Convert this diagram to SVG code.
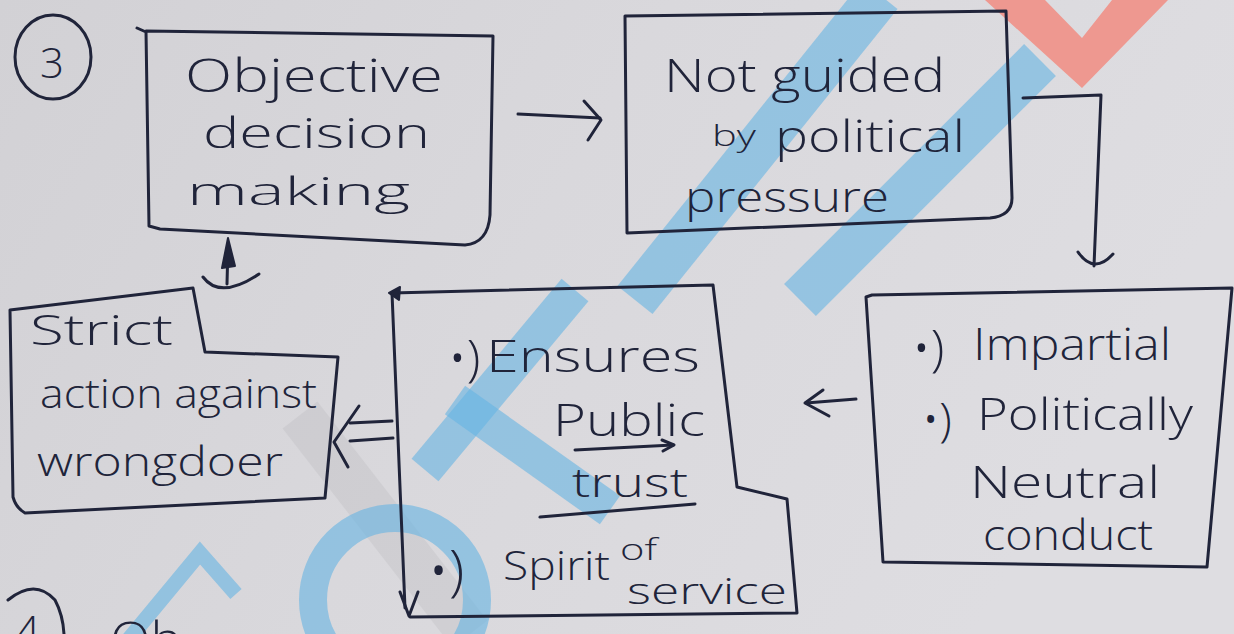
<svg xmlns="http://www.w3.org/2000/svg" width="1234" height="634" viewBox="0 0 1234 634">
  <defs>
    <linearGradient id="paper" x1="0" y1="0" x2="1" y2="0.3">
      <stop offset="0" stop-color="#d2d1d5"/>
      <stop offset="0.5" stop-color="#d9d8dc"/>
      <stop offset="1" stop-color="#dedde1"/>
    </linearGradient>
    <style>
      .ink { fill: none; stroke: #20243a; stroke-width: 3; stroke-linecap: round; stroke-linejoin: round; }
      .head { fill: #20243a; stroke: #20243a; stroke-width: 2; stroke-linejoin: round; }
      .hand { font-family: "Open Sans", "DejaVu Sans", sans-serif; font-weight: 300; fill: #20243a; }
      .wm { fill: none; stroke: #66b4e3; stroke-linecap: butt; opacity: 0.6; }
    </style>
  </defs>

  <!-- paper -->
  <rect x="0" y="0" width="1234" height="634" fill="url(#paper)"/>

  <!-- faint pen shadow -->
  <line x1="300" y1="415" x2="470" y2="634" stroke="#a9a9ae" stroke-width="44" opacity="0.2"/>

  <!-- watermark -->
  <g id="watermark">
    <polygon points="985,0 1045,0 1082,38 1112,0 1168,0 1082,88" fill="#f2877c" opacity="0.8"/>
    <circle class="wm" cx="395" cy="600" r="82" stroke-width="28"/>
    <polyline class="wm" points="128,640 200,553 236,594" stroke-width="15"/>
    <line class="wm" x1="635" y1="300" x2="880" y2="-5" stroke-width="45"/>
    <line class="wm" x1="800" y1="300" x2="1040" y2="60" stroke-width="45"/>
    <line class="wm" x1="425" y1="470" x2="575" y2="290" stroke-width="35"/>
    <line class="wm" x1="455" y1="400" x2="610" y2="510" stroke-width="35"/>
  </g>

  <!-- item number -->
  <g id="num3">
    <ellipse class="ink" cx="53" cy="57" rx="38" ry="42"/>
    <text class="hand" x="40" y="78" font-size="42">3</text>
  </g>

  <g id="objective">
    <path class="ink" d="M137,28 L146,32 M146,31 L493,36 L490,215 Q488,243 465,245 L160,229 L149,226 Z"/>
    <text class="hand" x="185" y="92" font-size="46" textLength="258" lengthAdjust="spacingAndGlyphs">Objective</text>
    <text class="hand" x="203" y="148" font-size="42" textLength="227" lengthAdjust="spacingAndGlyphs">decision</text>
    <text class="hand" x="187" y="205" font-size="38" textLength="223" lengthAdjust="spacingAndGlyphs">making</text>
  </g>

  <g id="not-guided">
    <path class="ink" d="M625,16 L1006,11 L1012,198 Q1012,216 990,218 L627,233 Z"/>
    <text class="hand" x="664" y="92" font-size="46" textLength="281" lengthAdjust="spacingAndGlyphs">Not guided</text>
    <text class="hand" x="712" y="146" font-size="30" textLength="44" lengthAdjust="spacingAndGlyphs">by</text>
    <text class="hand" x="775" y="152" font-size="44" textLength="190" lengthAdjust="spacingAndGlyphs">political</text>
    <text class="hand" x="685" y="212" font-size="42" textLength="204" lengthAdjust="spacingAndGlyphs">pressure</text>
  </g>

  <g id="impartial">
    <path class="ink" d="M866,297 L872,295 L1232,288 L1207,567 L883,562 Z"/>
    <text class="hand" x="912" y="366" font-size="50">•)</text>
    <text class="hand" x="973" y="360" font-size="44" textLength="198" lengthAdjust="spacingAndGlyphs">Impartial</text>
    <text class="hand" x="922" y="436" font-size="46">•)</text>
    <text class="hand" x="977" y="430" font-size="44" textLength="216" lengthAdjust="spacingAndGlyphs">Politically</text>
    <text class="hand" x="970" y="498" font-size="44" textLength="190" lengthAdjust="spacingAndGlyphs">Neutral</text>
    <text class="hand" x="983" y="550" font-size="42" textLength="170" lengthAdjust="spacingAndGlyphs">conduct</text>
  </g>

  <g id="public-trust">
    <path class="ink" d="M405,608 L392,293 L713,285 L737,487 L787,499 L797,613 L410,617"/>
    <polygon class="head" points="400,287 389,293 399,300"/>
    <polyline class="ink" points="400,592 409,616 418,592"/>
    <text class="hand" x="448" y="376" font-size="50">•)</text>
    <text class="hand" x="486" y="372" font-size="44" textLength="214" lengthAdjust="spacingAndGlyphs">Ensures</text>
    <text class="hand" x="553" y="436" font-size="44" textLength="152" lengthAdjust="spacingAndGlyphs">Public</text>
    <line class="ink" x1="575" y1="450" x2="673" y2="445"/>
    <polyline class="ink" points="662,440 674,445 663,451"/>
    <text class="hand" x="572" y="497" font-size="40" textLength="116" lengthAdjust="spacingAndGlyphs">trust</text>
    <line class="ink" x1="540" y1="517" x2="695" y2="504"/>
    <text class="hand" x="428" y="590" font-size="56">•)</text>
    <text class="hand" x="503" y="580" font-size="40" textLength="107" lengthAdjust="spacingAndGlyphs">Spirit</text>
    <text class="hand" x="620" y="560" font-size="30" textLength="37" lengthAdjust="spacingAndGlyphs">of</text>
    <text class="hand" x="627" y="604" font-size="36" textLength="160" lengthAdjust="spacingAndGlyphs">service</text>
  </g>

  <g id="strict-action">
    <path class="ink" d="M10,310 L193,288 L205,352 L338,357 L325,498 L25,513 Q16,508 13,497 Z"/>
    <text class="hand" x="30" y="345" font-size="42" textLength="143" lengthAdjust="spacingAndGlyphs">Strict</text>
    <text class="hand" x="40" y="408" font-size="40" textLength="277" lengthAdjust="spacingAndGlyphs">action against</text>
    <text class="hand" x="37" y="476" font-size="40" textLength="246" lengthAdjust="spacingAndGlyphs">wrongdoer</text>
  </g>

  <!-- connectors -->
  <g id="connectors">
    <line class="ink" x1="518" y1="114" x2="600" y2="118"/>
    <polyline class="ink" points="584,101 601,120 588,140"/>

    <polyline class="ink" points="1023,98 1101,95 1094,266"/>
    <path class="ink" d="M1078,252 Q1094,275 1113,254"/>

    <line class="ink" x1="856" y1="399" x2="806" y2="403"/>
    <polyline class="ink" points="823,390 805,403 829,416"/>

    <line class="ink" x1="350" y1="423" x2="392" y2="421"/>
    <line class="ink" x1="350" y1="441" x2="393" y2="438"/>
    <polyline class="ink" points="359,406 334,442 348,467"/>

    <line class="ink" x1="227" y1="284" x2="228" y2="246"/>
    <polygon class="head" points="222,268 228,238 235,266"/>
    <path class="ink" d="M203,277 Q220,300 259,274"/>
  </g>

  <!-- next item, cut at the lower edge -->
  <g id="num4">
    <path class="ink" d="M8,600 Q35,578 55,600 Q63,615 64,634"/>
    <text class="hand" x="15" y="648" font-size="44">4</text>
    <text class="hand" x="110" y="658" font-size="50" textLength="72" lengthAdjust="spacingAndGlyphs">Ob</text>
  </g>
</svg>
